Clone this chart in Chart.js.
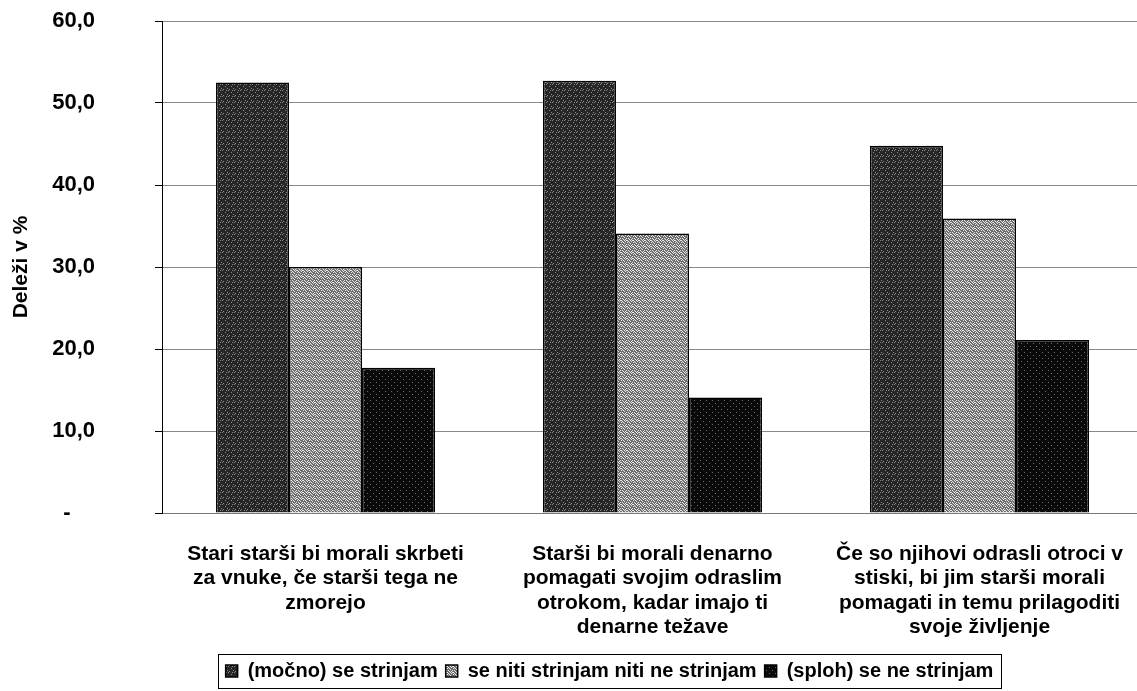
<!DOCTYPE html>
<html>
<head>
<meta charset="utf-8">
<script src="https://cdn.jsdelivr.net/npm/chart.js@4.4.0/dist/chart.umd.min.js"></script>
<style>
html, body { margin: 0; padding: 0; background: #fff; overflow: hidden; }
#wrap { position: relative; width: 1150px; height: 691px; }
</style>
</head>
<body>
<div id="wrap"><canvas id="chart"></canvas></div>
<script>
// categories (multi-line labels as in the original)
const categories = [
	['Stari starši bi morali skrbeti', 'za vnuke, če starši tega ne', 'zmorejo'],
	['Starši bi morali denarno', 'pomagati svojim odraslim', 'otrokom, kadar imajo ti', 'denarne težave'],
	['Če so njihovi odrasli otroci v', 'stiski, bi jim starši morali', 'pomagati in temu prilagoditi', 'svoje življenje']
];
const seriesNames = ['(močno) se strinjam', 'se niti strinjam niti ne strinjam', '(sploh) se ne strinjam'];
const agree = [52.5, 52.7, 44.8];
const neutral = [30.0, 34.1, 35.9];
const disagree = [17.7, 14.1, 21.1];
const yTicks = [0, 10, 20, 30, 40, 50, 60];
const yTitle = 'Deleži v %';

const FONT = "'Liberation Sans', Arial, sans-serif";
const ctx = document.getElementById('chart').getContext('2d');

// small stipple patterns like the printed bars
function makePattern(base, dot, dots) {
	const c = document.createElement('canvas');
	c.width = 6; c.height = 6;
	const g = c.getContext('2d');
	g.fillStyle = base;
	g.fillRect(0, 0, 6, 6);
	g.fillStyle = dot;
	dots.forEach(function(p){ g.fillRect(p[0], p[1], 1, 1); });
	return ctx.createPattern(c, 'repeat');
}
const darkFill = makePattern('#262626', '#8a8a8a', [[0,0],[3,2],[5,4],[1,5],[4,0]]);
const greyFill = makePattern('#6e6e6e', '#e8e8e8', [[0,0],[2,0],[1,1],[4,1],[3,2],[5,2],[0,3],[2,4],[4,4],[1,5],[5,5],[3,0]]);
const blackFill = makePattern('#0a0a0a', '#6a6a6a', [[1,1],[4,4]]);

// draws the frame round the legend and shifts it under the middle
const legendFrame = {
	id: 'legendFrame',
	afterLayout: function(chart){
		const lg = chart.legend;
		lg.left += 38;
		lg.right += 38;
	},
	afterDraw: function(chart){
		const boxes = chart.legend.legendHitBoxes;
		if (!boxes || !boxes.length) return;
		const first = boxes[0], last = boxes[boxes.length - 1];
		const c = chart.ctx;
		c.save();
		c.strokeStyle = '#000';
		c.lineWidth = 1;
		c.strokeRect(Math.round(first.left) - 7.5, Math.round(first.top) - 6.5,
			Math.round(last.left + last.width - first.left) + 15, Math.round(first.height) + 14);
		c.restore();
	}
};

const chart = new Chart(ctx, {
	type: 'bar',
	data: {
		labels: categories,
		datasets: [{
			label: seriesNames[0],
			data: agree,
			backgroundColor: darkFill,
			borderColor: '#000',
			borderWidth: 1.5
		}, {
			label: seriesNames[1],
			data: neutral,
			backgroundColor: greyFill,
			borderColor: '#000',
			borderWidth: 1.5
		}, {
			label: seriesNames[2],
			data: disagree,
			backgroundColor: blackFill,
			borderColor: '#000',
			borderWidth: 1.5
		}]
	},
	options: {
		responsive: true,
		maintainAspectRatio: false,
		animation: false,
		layout: { padding: { top: 21, right: 7, bottom: 0, left: 0 } },
		datasets: { bar: { categoryPercentage: 0.67, barPercentage: 1 } },
		plugins: {
			tooltip: { enabled: false },
			legend: {
				position: 'bottom',
				labels: {
					color: '#000',
					font: { family: FONT, size: 20, weight: 'bold' },
					boxWidth: 12,
					boxHeight: 12,
					padding: 8
				}
			}
		},
		scales: {
			x: {
				grid: { display: false },
				border: { color: '#777' },
				ticks: {
					color: '#000',
					padding: 21,
					maxRotation: 0,
					autoSkip: false,
					font: { family: FONT, size: 21, weight: 'bold', lineHeight: 1.16 }
				},
				afterFit: function(scale){ scale.height = 140; }
			},
			y: {
				min: 0,
				max: 60,
				afterBuildTicks: function(scale){
					scale.ticks = yTicks.map(function(v){ return { value: v }; });
				},
				grid: { color: '#888', tickLength: 7, tickColor: '#000' },
				border: { color: '#000' },
				ticks: {
					color: '#000',
					padding: 60,
					font: { family: FONT, size: 22, weight: 'bold' },
					callback: function(v){ return v === 0 ? '-    ' : v.toFixed(1).replace('.', ','); }
				},
				title: {
					display: true,
					text: yTitle,
					color: '#000',
					padding: { top: 9, bottom: 0 },
					font: { family: FONT, size: 21, weight: 'bold' }
				},
				afterFit: function(scale){
					scale.width = 162;
					scale.paddingTop = 0;
					scale.paddingBottom = 0;
				}
			}
		}
	},
	plugins: [legendFrame]
});
</script>
</body>
</html>
